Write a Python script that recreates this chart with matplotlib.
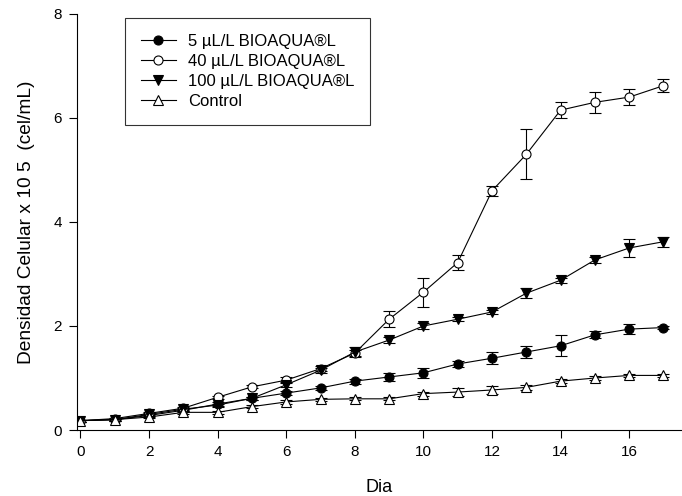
import matplotlib.pyplot as plt

plt.rcParams['font.family'] = ['Liberation Sans', 'DejaVu Sans']

dias = list(range(0, 18))

# 5 uL/L
y5 = [0.18, 0.2, 0.28, 0.38, 0.5, 0.61, 0.71, 0.81, 0.94, 1.02, 1.1, 1.27, 1.38, 1.5, 1.62, 1.83, 1.94, 1.97]
e5 = [0.02, 0.02, 0.02, 0.03, 0.03, 0.03, 0.04, 0.04, 0.05, 0.08, 0.1, 0.06, 0.12, 0.12, 0.2, 0.07, 0.1, 0.03]

# 40 uL/L
y40 = [0.18, 0.22, 0.32, 0.42, 0.63, 0.83, 0.96, 1.18, 1.48, 2.13, 2.65, 3.22, 4.6, 5.3, 6.15, 6.3, 6.4, 6.62]
e40 = [0.02, 0.02, 0.02, 0.03, 0.03, 0.03, 0.06, 0.05, 0.05, 0.15, 0.28, 0.15, 0.1, 0.48, 0.15, 0.2, 0.15, 0.12]

# 100 uL/L
y100 = [0.18, 0.2, 0.3, 0.4, 0.48, 0.61, 0.87, 1.15, 1.5, 1.73, 2.0, 2.13, 2.27, 2.63, 2.88, 3.27, 3.5, 3.62]
e100 = [0.02, 0.02, 0.02, 0.03, 0.03, 0.03, 0.05, 0.05, 0.1, 0.05, 0.05, 0.04, 0.04, 0.1, 0.05, 0.05, 0.18, 0.1]

# Control
yc = [0.18, 0.2, 0.25, 0.34, 0.34, 0.45, 0.54, 0.59, 0.6, 0.6, 0.7, 0.73, 0.77, 0.82, 0.94, 1.0, 1.05, 1.05]
ec = [0.02, 0.02, 0.02, 0.03, 0.03, 0.03, 0.03, 0.03, 0.03, 0.03, 0.04, 0.08, 0.08, 0.05, 0.04, 0.03, 0.03, 0.03]

series = [
    (y5, e5, 'o', 'black', '5 µL/L BIOAQUA®L'),
    (y40, e40, 'o', 'white', '40 µL/L BIOAQUA®L'),
    (y100, e100, 'v', 'black', '100 µL/L BIOAQUA®L'),
    (yc, ec, '^', 'white', 'Control'),
]

fig = plt.figure(figsize=(6.82, 4.96), dpi=100)
ax = fig.add_axes([0.113, 0.133, 0.885, 0.839])

handles = []
for y, e, m, fc, lab in series:
    cont = ax.errorbar(dias, y, yerr=e, marker=m, markersize=6.5, markerfacecolor=fc,
                       markeredgecolor='black', markeredgewidth=0.8, color='black',
                       linewidth=0.8, elinewidth=0.8, capsize=4, capthick=0.8, label=lab)
    handles.append(cont[0])

ax.set_xlim(-0.1, 17.5)
ax.set_ylim(0, 8)
ax.set_xticks(range(0, 17, 2))
ax.set_yticks(range(0, 9, 2))
ax.spines['top'].set_visible(False)
ax.spines['right'].set_visible(False)
ax.tick_params(direction='out', length=6, pad=5, labelsize=11)

ax.set_xlabel('Dia', fontsize=13, labelpad=14)
ax.set_ylabel('Densidad Celular x 10 5  (cel/mL)', fontsize=13.8, labelpad=13)

leg = ax.legend(handles, [s[4] for s in series], loc='upper left',
                bbox_to_anchor=(0.079, 0.99), fontsize=12,
                frameon=True, fancybox=False, edgecolor='black', handlelength=2.15,
                labelspacing=0.3, borderpad=0.95, handletextpad=0.7, borderaxespad=0)
leg.get_frame().set_linewidth(0.8)

plt.savefig('out.png', dpi=100)
